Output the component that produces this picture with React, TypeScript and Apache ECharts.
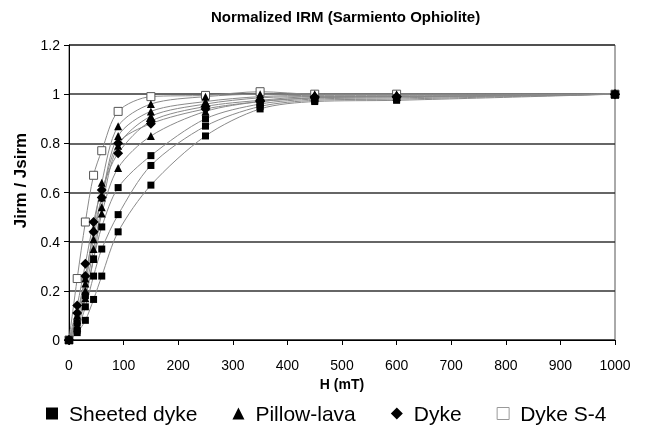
import React, { useEffect, useRef } from "react";
import * as echarts from "echarts";

const H = [0, 15, 30, 45, 60, 90, 150, 250, 350, 450, 600, 1000];

const sheetedDyke1 = [0, 0.07, 0.18, 0.33, 0.46, 0.62, 0.75, 0.9, 0.96, 0.98, 0.985, 1.0];
const sheetedDyke2 = [0, 0.04, 0.135, 0.26, 0.37, 0.51, 0.71, 0.87, 0.95, 0.975, 0.98, 1.0];
const sheetedDyke3 = [0, 0.03, 0.08, 0.165, 0.26, 0.44, 0.63, 0.83, 0.94, 0.97, 0.975, 1.0];

const pillowLava1 = [0, 0.1, 0.25, 0.45, 0.64, 0.87, 0.96, 0.99, 1.0, 1.0, 1.0, 1.0];
const pillowLava2 = [0, 0.08, 0.23, 0.41, 0.58, 0.83, 0.93, 0.97, 0.99, 0.995, 0.995, 1.0];
const pillowLava3 = [0, 0.06, 0.2, 0.37, 0.54, 0.79, 0.91, 0.96, 0.985, 0.99, 0.99, 1.0];
const pillowLava4 = [0, 0.05, 0.17, 0.33, 0.515, 0.7, 0.83, 0.93, 0.97, 0.985, 0.99, 1.0];

const dyke1 = [0, 0.14, 0.31, 0.48, 0.61, 0.76, 0.89, 0.95, 0.975, 0.99, 0.99, 1.0];
const dyke2 = [0, 0.11, 0.26, 0.44, 0.58, 0.8, 0.88, 0.94, 0.97, 0.985, 0.99, 1.0];

const dykeS4 = [0, 0.25, 0.48, 0.67, 0.77, 0.93, 0.99, 0.995, 1.01, 1.0, 1.0, 1.0];

const groups = [
  { name: "Sheeted dyke", curves: [sheetedDyke1, sheetedDyke2, sheetedDyke3] },
  { name: "Pillow-lava", curves: [pillowLava1, pillowLava2, pillowLava3, pillowLava4] },
  { name: "Dyke", curves: [dyke1, dyke2] },
  { name: "Dyke S-4", curves: [dykeS4] },
];

// drawing order: open squares underneath, sheeted dyke on top
const drawOrder = ["Dyke S-4", "Dyke", "Pillow-lava", "Sheeted dyke"];

const FONT = "'Liberation Sans', Arial, sans-serif";

const symbolFor: Record<string, any> = {
  "Sheeted dyke": { symbol: "rect", symbolSize: 7, itemStyle: { color: "#000" } },
  "Pillow-lava": { symbol: "triangle", symbolSize: 8, itemStyle: { color: "#000" } },
  Dyke: { symbol: "diamond", symbolSize: 10, itemStyle: { color: "#000" } },
  "Dyke S-4": {
    symbol: "rect",
    symbolSize: 8,
    itemStyle: { color: "#fff", borderColor: "#555", borderWidth: 1 },
  },
};

const legendIcons: Record<string, string> = {
  "Sheeted dyke": "rect",
  "Pillow-lava": "triangle",
  Dyke: "diamond",
  "Dyke S-4": "rect",
};

export default function App() {
  const ref = useRef<HTMLDivElement>(null);
  useEffect(() => {
    if (!ref.current) return;
    const chart = echarts.init(ref.current, undefined, { renderer: "svg" });
    const series: any[] = [];
    drawOrder.forEach((name) => {
      const g = groups.find((x) => x.name === name)!;
      g.curves.forEach((c) => {
        series.push({
          type: "line",
          name: g.name,
          data: H.map((h, i) => [h, c[i]]),
          smooth: 0.3,
          lineStyle: { color: "#8a8a8a", width: 1 },
          ...symbolFor[g.name],
          z: 2,
        });
      });
    });
    chart.setOption({
      animation: false,
      title: {
        text: "Normalized IRM (Sarmiento Ophiolite)",
        left: 206,
        top: 4,
        textStyle: { fontFamily: FONT, fontSize: 15, fontWeight: "bold", color: "#000" },
      },
      grid: {
        left: 69,
        right: 30,
        top: 45,
        bottom: 95,
        show: true,
        borderColor: "#555",
        borderWidth: 1,
      },
      legend: {
        bottom: 6,
        left: 41,
        itemWidth: 12,
        itemHeight: 12,
        itemGap: 35,
        textStyle: { fontFamily: FONT, fontSize: 21, color: "#000", padding: [0, 0, 0, 6] },
        data: groups.map((g) => ({
          name: g.name,
          icon: legendIcons[g.name],
          itemStyle:
            g.name === "Dyke S-4"
              ? { color: "#fff", borderColor: "#999", borderWidth: 1 }
              : { color: "#000" },
        })),
      },
      xAxis: {
        type: "value",
        min: 0,
        max: 1000,
        interval: 100,
        name: "H (mT)",
        nameLocation: "middle",
        nameGap: 37,
        nameTextStyle: { fontFamily: FONT, fontSize: 14, fontWeight: "bold", color: "#000" },
        axisLine: { show: true, onZero: false, lineStyle: { color: "#000", width: 1 } },
        axisTick: { show: true, length: 5, lineStyle: { color: "#000" } },
        axisLabel: {
          margin: 18,
          fontFamily: FONT,
          fontSize: 14,
          color: "#000",
          formatter: (v: number) => String(v),
        },
        splitLine: { show: false },
      },
      yAxis: {
        type: "value",
        min: 0,
        max: 1.2,
        interval: 0.2,
        name: "Jirm / Jsirm",
        nameLocation: "middle",
        nameGap: 40,
        nameTextStyle: {
          fontFamily: FONT,
          fontSize: 17,
          fontWeight: "bold",
          color: "#000",
          padding: [0, 0, 0, 24],
        },
        axisLine: { show: true, lineStyle: { color: "#000", width: 1 } },
        axisTick: { show: true, length: 5, lineStyle: { color: "#000" } },
        axisLabel: {
          margin: 9,
          fontFamily: FONT,
          fontSize: 14,
          color: "#000",
          formatter: (v: number) => String(parseFloat(v.toFixed(1))),
        },
        splitLine: { show: true, lineStyle: { color: "#333", width: 1.5 } },
      },
      series,
    });
    return () => chart.dispose();
  }, []);
  return (
    <div
      ref={ref}
      style={{ position: "fixed", left: 0, top: 0, width: 645, height: 435 }}
    />
  );
}
